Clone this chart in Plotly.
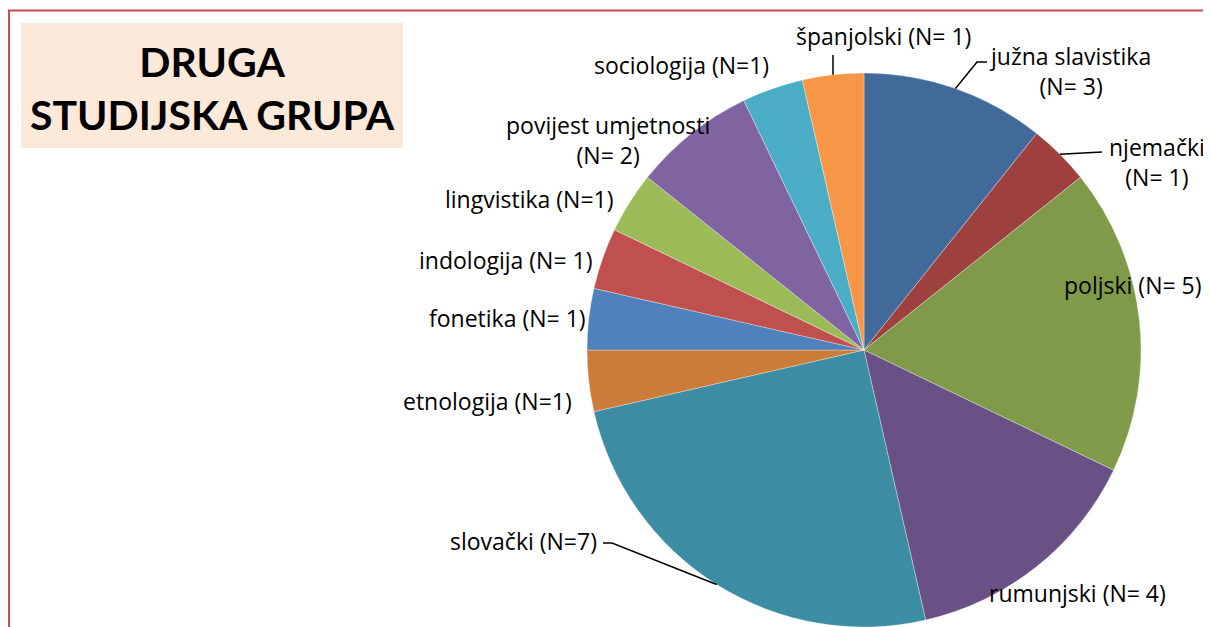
import math
import plotly.graph_objects as go

# page body has an 8px margin; figure is sized so it fills the 1211x627 window
OFF = 8
FW, FH = 1211 - OFF, 627 - OFF

categories = ["južna slavistika", "njemački", "poljski", "rumunjski", "slovački",
              "etnologija", "fonetika", "indologija", "lingvistika",
              "povijest umjetnosti", "sociologija", "španjolski"]
counts = [3, 1, 5, 4, 7, 1, 1, 1, 1, 2, 1, 1]
label_texts = ["južna slavistika<br>(N= 3)", "njemački<br>(N= 1)", "poljski (N= 5)",
               "rumunjski (N= 4)", "slovački (N=7)", "etnologija (N=1)",
               "fonetika (N= 1)", "indologija (N= 1)", "lingvistika (N=1)",
               "povijest umjetnosti<br>(N= 2)", "sociologija (N=1)", "španjolski (N= 1)"]
colors = ["#416A9B", "#9E413E", "#7F9A48", "#695185", "#3C8DA3", "#CC7B38",
          "#4F81BD", "#C0504D", "#9BBB59", "#8064A2", "#4BACC6", "#F79646"]

# pie geometry (window pixels)
CX, CY, R = 864, 350, 277


def px(x):
    return (x - OFF) / FW


def py(y):
    return 1 - (y - OFF) / FH


fig = go.Figure()
fig.add_trace(go.Pie(
    labels=categories, values=counts, sort=False, direction="clockwise",
    rotation=0, textinfo="none", hoverinfo="label+value",
    marker=dict(colors=colors, line=dict(color="rgba(255,255,255,0.55)", width=0.6)),
    domain=dict(x=[px(CX - R), px(CX + R)], y=[max(0, py(CY + R)), py(CY - R)]),
    showlegend=False,
))

# label positions (window pixel centre of text) and leader-line bends
label_pos = {
    "južna slavistika": (1070, 71),
    "njemački": (1157, 162),
    "poljski": (1133, 285),
    "rumunjski": (1077, 593),
    "slovački": (523, 541),
    "etnologija": (487, 401),
    "fonetika": (507, 318),
    "indologija": (505, 260),
    "lingvistika": (529, 199),
    "povijest umjetnosti": (608, 140),
    "sociologija": (681, 65),
    "španjolski": (883, 36),
}
leader_ends = {
    "južna slavistika": [(977, 62), (987, 62)],
    "njemački": [(1102, 152)],
    "slovački": [(612, 543), (603, 543)],
    "španjolski": [(833, 55)],
}

total = sum(counts)
cum = 0
annotations = []
shapes = []
for cat, n, txt in zip(categories, counts, label_texts):
    mid = (cum + n / 2) / total * 2 * math.pi
    cum += n
    lx, ly = label_pos[cat]
    annotations.append(dict(
        x=px(lx), y=py(ly), xref="paper", yref="paper", text=txt,
        showarrow=False, xanchor="center", yanchor="middle", align="center",
        font=dict(family="Open Sans, sans-serif", size=23, color="#000000"),
    ))
    if cat in leader_ends:
        sx = CX + R * math.sin(mid)
        sy = CY - R * math.cos(mid)
        pts = [(sx, sy)] + leader_ends[cat]
        path = "M " + " L ".join(f"{px(a):.5f},{py(b):.5f}" for a, b in pts)
        shapes.append(dict(type="path", path=path, xref="paper", yref="paper",
                           line=dict(color="#000000", width=1.5)))

# title box
shapes.append(dict(type="rect", xref="paper", yref="paper",
                   x0=px(21), x1=px(403), y0=py(148), y1=py(23),
                   fillcolor="#FDE9D9", line=dict(width=0), layer="below"))
annotations.append(dict(
    x=px(212), y=py(88), xref="paper", yref="paper",
    text="<b>DRUGA<br>STUDIJSKA GRUPA</b>", showarrow=False,
    xanchor="center", yanchor="middle", align="center",
    font=dict(family="Lato, Open Sans, sans-serif", size=41, color="#000000"),
))

# frame lines
shapes.append(dict(type="line", xref="paper", yref="paper",
                   x0=px(8), x1=1, y0=py(10.5), y1=py(10.5),
                   line=dict(color="#C0504D", width=2)))
shapes.append(dict(type="line", xref="paper", yref="paper",
                   x0=px(9), x1=px(9), y0=py(10), y1=0,
                   line=dict(color="#C0504D", width=2)))

fig.update_layout(
    width=FW, height=FH, margin=dict(l=0, r=0, t=0, b=0),
    paper_bgcolor="white", plot_bgcolor="white",
    annotations=annotations, shapes=shapes,
)

fig.write_html("out.html")
